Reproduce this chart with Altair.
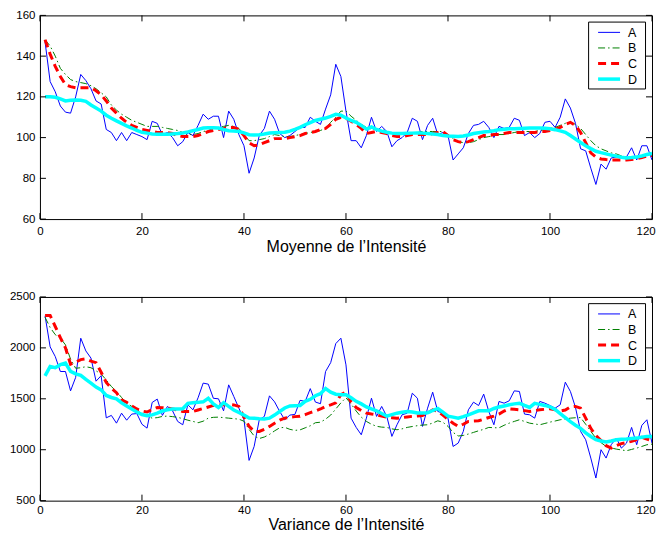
import altair as alt
import pandas as pd

x_vals = list(range(1, 121))
series_names = ["A", "B", "C", "D"]
x_ticks = [0, 20, 40, 60, 80, 100, 120]
mean_ticks = [60, 80, 100, 120, 140, 160]
var_ticks = [500, 1000, 1500, 2000, 2500]

mean_A = [147, 127.5, 122.5, 115.5, 112.5, 112, 120, 131, 128, 124, 118, 116.5, 104, 102.5, 98.5, 102.5, 98.5, 102.5, 101.5, 100.5,
          99, 108, 107, 101.5, 102.5, 100, 96, 98, 102.5, 101, 106, 111.5, 109, 110.5, 110.5, 100, 113, 109, 101.5, 96,
          82.5, 90, 101, 104.5, 113, 109, 102, 100, 101, 103, 105, 105, 110, 108, 106.5, 114, 121, 136, 130, 113,
          98.5, 98.5, 95, 101, 110, 103, 105.5, 103, 95.5, 98.5, 100, 102.5, 109.5, 108, 99, 106, 109.5, 101.5, 102.5, 101,
          89, 92, 95, 102, 106, 106.5, 108, 105, 100, 105.5, 104.5, 105, 109.5, 108.5, 101, 102.5, 100, 102, 107.5, 108,
          105, 110, 119, 114.5, 107, 94.5, 93.5, 85, 77, 87, 84.5, 90, 90.5, 90, 90.5, 95, 89, 96, 96, 89]
mean_B = [148, 145, 140, 134, 131, 128.5, 127.5, 127, 126.5, 125.5, 124, 122, 120, 116, 113.5, 111.5, 110, 108.5, 107.5, 106.5,
          105.5, 105.5, 105.5, 105, 104.5, 104, 103.5, 102.5, 101.5, 101.5, 102, 103, 103.5, 104.5, 105, 105.5, 106, 105.5, 104.5, 101.5,
          98.5, 98.5, 99, 99.5, 100.5, 101.5, 101, 100.5, 100.5, 101, 101.5, 102, 102.5, 103, 103.5, 104.5, 107.5, 110, 113, 113,
          110.5, 108.5, 106.5, 105, 104, 104, 104, 103, 102, 101.5, 101.5, 102, 102, 102.5, 103, 103, 103, 103, 103, 101.5,
          99.5, 98, 97.5, 97.5, 98, 99, 100, 100.5, 101, 101.5, 101.5, 102, 102.5, 103, 103, 103, 103, 103.5, 104, 104.5,
          105, 106, 107, 107.5, 106.5, 104.5, 101.5, 98.5, 96, 94.5, 93.5, 92.5, 92, 91, 90.5, 90, 90.5, 91, 91.5, 92]
mean_C = [148, 141, 135, 130, 126, 125, 124.5, 124.5, 124.5, 124.5, 123, 121, 118, 114.5, 112, 109.5, 107.5, 106, 105, 104,
          103.5, 103, 102.5, 102.5, 102.5, 102, 101, 100.5, 100.5, 100.5, 101, 102, 103, 103.5, 104, 104.5, 105, 105, 104, 101,
          97.5, 96, 96.5, 97.5, 98.5, 99.5, 99.5, 99.5, 100, 100.5, 101, 102, 102.5, 103, 104, 104.5, 106.5, 109, 110, 109.5,
          108, 106.5, 104.5, 102, 102.5, 103, 102.5, 102, 101, 100.5, 100.5, 101, 101.5, 101.5, 101.5, 101.5, 102, 102.5, 103, 101,
          99, 98, 97.5, 98, 99, 100, 101, 101, 101.5, 101.5, 102, 102.5, 102.5, 102.5, 102.5, 102.5, 102.5, 103, 103, 103.5,
          104, 105, 106.5, 107.5, 106, 102.5, 97.5, 92.5, 90.5, 89.5, 89.2, 89, 89, 89, 89, 89.2, 89.6, 90.2, 91, 91.2]
mean_D = [120, 120, 119.8, 119, 118, 118.3, 118.5, 118.3, 117.8, 116, 114.5, 113, 111, 109.5, 108.2, 107, 105.8, 104.7, 103.5, 102.6,
          102.2, 101.8, 101.7, 101.6, 101.6, 101.8, 102, 102.3, 102.8, 103.4, 104, 104.7, 104.8, 104.8, 104.7, 104, 103.4, 103.2, 103, 102.3,
          101.4, 101.3, 101.4, 101.8, 102.3, 102.4, 102.5, 102.6, 103.2, 104, 105, 106.3, 107.4, 108.4, 109, 109.6, 110.4, 111.4, 111, 109.6,
          108.5, 107.5, 106, 104.2, 105.2, 104, 103.2, 102.6, 102.2, 102, 102, 102.1, 102.2, 102.3, 102.2, 102, 101.8, 101.5, 101, 100.8,
          100.7, 100.6, 100.8, 101.3, 102, 102.4, 102.7, 103, 103.4, 103.9, 104.1, 104.3, 104.4, 104.5, 104.6, 104.7, 104.7, 104.7, 104.6, 104.3,
          103.9, 103.3, 102.6, 101, 99.3, 97.6, 96, 94.6, 93.3, 92.6, 92, 91.4, 90.9, 90.4, 90, 90.2, 90.5, 91, 91.7, 92.2]

var_A = [2315, 2010, 1915, 1768, 1768, 1578, 1710, 2095, 1970, 1900, 1673, 1727, 1313, 1337, 1261, 1359, 1290, 1350, 1355, 1250,
         1212, 1464, 1497, 1337, 1425, 1382, 1278, 1245, 1441, 1392, 1510, 1654, 1644, 1505, 1500, 1382, 1637, 1523, 1408, 1294,
         895, 1033, 1294, 1327, 1529, 1470, 1376, 1294, 1340, 1347, 1485, 1474, 1600, 1468, 1452, 1768, 1855, 2042, 2095, 1833,
         1310, 1219, 1147, 1310, 1506, 1327, 1425, 1327, 1131, 1245, 1343, 1359, 1555, 1506, 1229, 1408, 1565, 1376, 1359, 1310,
         1032, 1065, 1180, 1392, 1467, 1434, 1546, 1376, 1245, 1474, 1457, 1480, 1578, 1572, 1350, 1343, 1310, 1474, 1457, 1434,
         1408, 1441, 1663, 1572, 1415, 1180, 1098, 918, 722, 1000, 918, 1049, 1114, 1016, 1065, 1219, 1049, 1239, 1294, 1065]
var_B = [2300, 2200, 2130, 2095, 2030, 1890, 1800, 1805, 1815, 1805, 1775, 1742, 1686, 1621, 1572, 1513, 1458, 1425, 1392, 1360,
         1330, 1310, 1315, 1327, 1330, 1325, 1318, 1305, 1290, 1278, 1265, 1280, 1310, 1318, 1320, 1315, 1310, 1305, 1300, 1280,
         1200, 1135, 1110, 1125, 1150, 1185, 1215, 1220, 1200, 1190, 1195, 1215, 1235, 1265, 1270, 1300, 1340, 1400, 1460, 1510,
         1450, 1380, 1320, 1278, 1250, 1230, 1222, 1219, 1205, 1196, 1205, 1219, 1228, 1236, 1242, 1245, 1262, 1284, 1270, 1230,
         1170, 1135, 1140, 1154, 1170, 1186, 1200, 1219, 1216, 1215, 1240, 1261, 1278, 1294, 1278, 1261, 1253, 1245, 1258, 1271,
         1282, 1294, 1302, 1310, 1314, 1316, 1250, 1180, 1114, 1070, 1032, 1018, 1006, 998, 990, 1003, 1016, 1032, 1049, 1055]
var_C = [2317, 2317, 2210, 2100, 2000, 1840, 1860, 1885, 1892, 1870, 1855, 1760, 1660, 1605, 1560, 1490, 1465, 1430, 1400, 1380,
         1370, 1395, 1415, 1412, 1408, 1400, 1390, 1376, 1375, 1376, 1390, 1405, 1420, 1435, 1438, 1441, 1445, 1440, 1425, 1320,
         1230, 1180, 1180, 1200, 1229, 1260, 1290, 1310, 1320, 1325, 1328, 1345, 1365, 1380, 1400, 1425, 1441, 1460, 1540, 1565,
         1470, 1415, 1385, 1359, 1350, 1343, 1330, 1320, 1315, 1310, 1315, 1322, 1328, 1332, 1336, 1360, 1392, 1376, 1340, 1300,
         1260, 1229, 1250, 1278, 1281, 1284, 1300, 1316, 1330, 1350, 1380, 1402, 1397, 1392, 1384, 1376, 1384, 1392, 1397, 1402,
         1392, 1380, 1390, 1420, 1425, 1408, 1310, 1210, 1140, 1090, 1040, 1016, 1040, 1060, 1070, 1082, 1100, 1121, 1105, 1088]
var_D = [1725, 1817, 1805, 1835, 1850, 1770, 1745, 1730, 1690, 1654, 1615, 1588, 1533, 1513, 1500, 1460, 1430, 1400, 1370, 1345,
         1335, 1342, 1360, 1380, 1392, 1400, 1400, 1402, 1455, 1462, 1465, 1470, 1505, 1450, 1415, 1462, 1425, 1390, 1365, 1340,
         1312, 1310, 1305, 1302, 1310, 1340, 1375, 1410, 1430, 1432, 1435, 1475, 1495, 1530, 1550, 1600, 1565, 1545, 1539, 1540,
         1510, 1475, 1450, 1420, 1400, 1382, 1355, 1330, 1345, 1359, 1368, 1376, 1370, 1360, 1360, 1362, 1385, 1405, 1370, 1330,
         1320, 1310, 1325, 1343, 1362, 1382, 1382, 1382, 1405, 1420, 1430, 1441, 1450, 1457, 1435, 1415, 1455, 1445, 1435, 1420,
         1395, 1355, 1315, 1275, 1240, 1210, 1165, 1130, 1098, 1085, 1075, 1085, 1098, 1102, 1105, 1110, 1114, 1122, 1131, 1131]

# ---- styles ----
FONT = "Liberation Sans"
W, H = 613, 204
TICK = 6
STYLES = {
    "A": dict(color="#0000ff", strokeWidth=1),
    "B": dict(color="#008000", strokeWidth=1, strokeDash=[7, 3, 1.5, 3]),
    "C": dict(color="#ff0000", strokeWidth=3, strokeDash=[8, 5]),
    "D": dict(color="#00ffff", strokeWidth=3.5),
}
LEG_BOX = (549.5, 606.5, 6.7, 73.7)
LEG_ROW0, LEG_ROW_H = 17, 15.6
LEG_SYM = (559, 581)
LEG_LAB_X = 589


def panel(cols, ydomain, yticks, title, label_pad, title_pad):
    xs = alt.Scale(domain=[0, 120], nice=False, zero=False)
    ys = alt.Scale(domain=ydomain, nice=False, zero=False)
    x_enc = alt.X("x:Q", scale=xs, axis=alt.Axis(values=x_ticks, title=title, ticks=False, domain=False, grid=False,
                                                  labelPadding=label_pad, titlePadding=title_pad, labelFontSize=11.5,
                                                  titleFontSize=16, labelFont=FONT, titleFont=FONT, titleFontWeight="normal",
                                                  labelColor="black", titleColor="black", labelFlush=True,
                                                  labelFlushOffset=3.2, format="d"))
    y_enc = alt.Y("v:Q", scale=ys, axis=alt.Axis(values=yticks, title=None, ticks=False, domain=False, grid=False,
                                                  labelPadding=5, labelFontSize=11.5, labelFont=FONT, labelColor="black",
                                                  minExtent=31, maxExtent=31, labelFlush=False, format="d"))
    layers = []
    for name, vals in zip(series_names, cols):
        df = pd.DataFrame({"x": x_vals, "v": vals})
        layers.append(alt.Chart(df).mark_line(clip=True, **STYLES[name]).encode(x=x_enc, y=y_enc))

    xt = pd.DataFrame({"x": x_ticks})
    yt = pd.DataFrame({"v": yticks})
    rule = dict(color="black", strokeWidth=1)
    layers.append(alt.Chart(xt).mark_rule(**rule).encode(x=x_enc, y=alt.value(H), y2=alt.value(H - TICK)))
    layers.append(alt.Chart(xt).mark_rule(**rule).encode(x=x_enc, y=alt.value(0), y2=alt.value(TICK)))
    layers.append(alt.Chart(yt).mark_rule(**rule).encode(y=y_enc, x=alt.value(0), x2=alt.value(TICK)))
    layers.append(alt.Chart(yt).mark_rule(**rule).encode(y=y_enc, x=alt.value(W), x2=alt.value(W - TICK)))

    # legend box
    x0, x1, y0, y1 = LEG_BOX
    layers.append(alt.Chart(pd.DataFrame({"s": ["box"]})).mark_rect(fill="white", stroke="black", strokeWidth=1).encode(
        x=alt.value(x0), x2=alt.value(x1), y=alt.value(y0), y2=alt.value(y1)))
    for i, name in enumerate(series_names):
        yy = LEG_ROW0 + i * LEG_ROW_H
        ldf = pd.DataFrame({"s": [name]})
        layers.append(alt.Chart(ldf).mark_rule(**STYLES[name]).encode(
            x=alt.value(LEG_SYM[0]), x2=alt.value(LEG_SYM[1]), y=alt.value(yy)))
        layers.append(alt.Chart(ldf).mark_text(align="left", baseline="middle", font=FONT, fontSize=12.5, color="black").encode(
            x=alt.value(LEG_LAB_X), y=alt.value(yy + 0.5), text="s:N"))
    return alt.layer(*layers).properties(width=W, height=H)


top_panel = panel([mean_A, mean_B, mean_C, mean_D], [60, 160], mean_ticks, "Moyenne de l\u2019Intensit\u00e9", 6, 2)
bot_panel = panel([var_A, var_B, var_C, var_D], [500, 2500], var_ticks, "Variance de l\u2019Intensit\u00e9", 4, 0)

chart = alt.vconcat(top_panel, bot_panel, spacing=35).properties(
    padding={"left": 0, "top": 0, "right": 0, "bottom": -1}
).configure(background="white").configure_view(stroke="black", strokeWidth=1)

chart.save("out.html", embed_options={"renderer": "svg", "actions": False})
